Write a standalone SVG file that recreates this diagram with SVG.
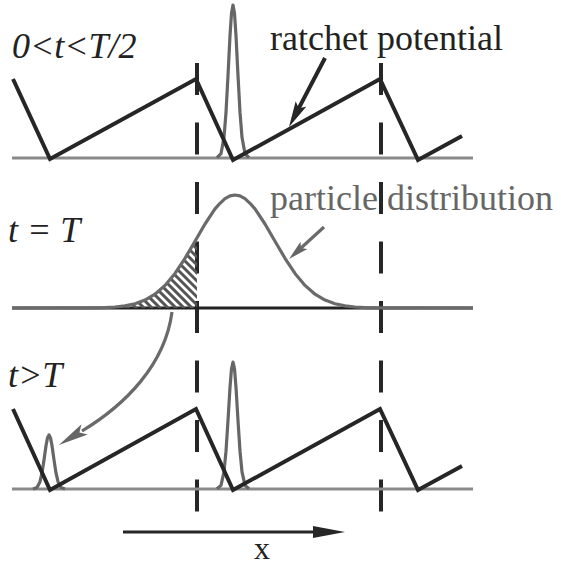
<svg xmlns="http://www.w3.org/2000/svg" width="561" height="567" viewBox="0 0 561 567">
<style>
.base-g{stroke:#8a8a8a;stroke-width:3;fill:none}
.base-k{stroke:#222;stroke-width:3;fill:none}
.ratchet{stroke:#262626;stroke-width:4;fill:none;stroke-linejoin:miter}
.dash{stroke:#262626;stroke-width:4;stroke-dasharray:32 27.5;fill:none}
.spike{stroke:#666;stroke-width:3.2;fill:none;stroke-linejoin:round}
.dist{stroke:#6a6a6a;stroke-width:3.2;fill:none;stroke-linejoin:round}
.hatch{stroke:#555;stroke-width:3;fill:none}
.lbl{font-size:36px;fill:#222}
.it{font-style:italic}
.gray{fill:#666}
.arr-k{stroke:#262626;stroke-width:4;fill:none}
.arr-g{stroke:#6a6a6a;stroke-width:3.2;fill:none}
</style>
<defs>
<marker id="ahK" markerUnits="userSpaceOnUse" markerWidth="26" markerHeight="12" refX="16" refY="6" orient="auto"><path d="M0,0 L26,6 L0,12 L5,6 Z" fill="#262626"/></marker>
<marker id="ahG" markerUnits="userSpaceOnUse" markerWidth="20" markerHeight="10" refX="12" refY="5" orient="auto"><path d="M0,0 L20,5 L0,10 L4,5 Z" fill="#666"/></marker>
<marker id="ahGL" markerUnits="userSpaceOnUse" markerWidth="30" markerHeight="12" refX="3" refY="6" orient="auto"><path d="M0,0 L30,6 L0,12 L6,6 Z" fill="#666"/></marker>
<marker id="ahX" markerUnits="userSpaceOnUse" markerWidth="32" markerHeight="12" refX="5" refY="6" orient="auto"><path d="M0,0 L32,6 L0,12 Z" fill="#262626"/></marker>
<clipPath id="hatchClip"><polygon points="100,308 105,307.6 115,307 125,305.9 135,303.8 145,300.1 155,294.2 165,285.4 175,273.4 185,258.3 195,241.2 197,237.7 197,308"/></clipPath>
</defs>

<g id="dashed-lines">
<line class="dash" x1="197" y1="63" x2="197" y2="512"/>
<line class="dash" x1="381" y1="63" x2="381" y2="512"/>
</g>

<g id="panel-top">
<line class="base-g" x1="12" y1="158" x2="473" y2="158"/>
<polyline class="spike" points="217,157.7 221,153.7 224,137.3 226,112.4 228,75.5 230,35.6 231.5,13.3 233,5 234.5,13.3 236,35.6 238,75.5 240,112.4 242,137.3 245,153.7 249,157.7"/>
<polyline class="ratchet" points="13,79 50,159 196,79 233,160 380,79 418,160 462,136"/>
<text class="lbl it" font-family="Liberation Serif, Times New Roman, serif" x="12" y="58">0&lt;t&lt;T/2</text>
<text class="lbl" font-family="Liberation Serif, Times New Roman, serif" x="270" y="50">ratchet potential</text>
</g>

<g id="panel-middle">
<line class="base-k" x1="12" y1="308" x2="473" y2="308"/>
<g clip-path="url(#hatchClip)">
<path class="hatch" d="M40,228 l82,82 M48,228 l82,82 M56,228 l82,82 M64,228 l82,82 M72,228 l82,82 M80,228 l82,82 M88,228 l82,82 M96,228 l82,82 M104,228 l82,82 M112,228 l82,82 M120,228 l82,82 M128,228 l82,82 M136,228 l82,82 M144,228 l82,82 M152,228 l82,82 M160,228 l82,82 M168,228 l82,82 M176,228 l82,82 M184,228 l82,82 M192,228 l82,82 M200,228 l82,82"/>
</g>
<polyline class="dist" points="12,308 95,307.8 105,307.6 115,307 125,305.9 135,303.8 145,300.1 155,294.2 165,285.4 175,273.4 185,258.3 195,241.2 205,224 215,208.9 220,203.3 225,198.6 230,195.9 235,195 240,195.9 245,198.6 250,203.3 255,208.9 265,224 275,241.2 285,258.3 295,273.4 305,285.4 315,294.2 325,300.1 335,303.8 345,305.9 355,307 365,307.6 375,307.8 473,308"/>
<text class="lbl it" font-family="Liberation Serif, Times New Roman, serif" x="8" y="242">t = T</text>
<text class="lbl gray" font-family="Liberation Serif, Times New Roman, serif" x="270" y="210">particle distribution</text>
</g>

<g id="panel-bottom">
<line class="base-g" x1="12" y1="489" x2="473" y2="489"/>
<polyline class="spike" points="33,488.9 37,487.5 40,481.7 42,472.9 44,459.9 46,445.8 47.5,437.9 49,435 50.5,437.9 52,445.8 54,459.9 56,472.9 58,481.7 61,487.5 65,488.9"/>
<polyline class="spike" points="217,488.8 221,485.4 224,471.9 226,451.2 228,420.5 230,387.4 231.5,368.9 233,362 234.5,368.9 236,387.4 238,420.5 240,451.2 242,471.9 245,485.4 249,488.8"/>
<polyline class="ratchet" points="13,409 50,490 196,409 233,490 380,409 418,490 462,466"/>
<text class="lbl it" font-family="Liberation Serif, Times New Roman, serif" x="8" y="387">t&gt;T</text>
</g>

<g id="connectors">
<line class="arr-k" x1="325" y1="58" x2="293.6" y2="118.1" marker-end="url(#ahK)"/>
<line class="arr-g" x1="324" y1="227" x2="295" y2="253.5" marker-end="url(#ahG)"/>
<path class="arr-g" d="M172,312 C165,365 125,405 82,431" marker-end="url(#ahGL)"/>
</g>

<g id="x-axis">
<line stroke="#262626" stroke-width="3" x1="123" y1="532" x2="318" y2="532" marker-end="url(#ahX)"/>
<text class="lbl" font-family="Liberation Serif, Times New Roman, serif" x="262" y="559" text-anchor="middle" style="font-size:32px">x</text>
</g>
</svg>
